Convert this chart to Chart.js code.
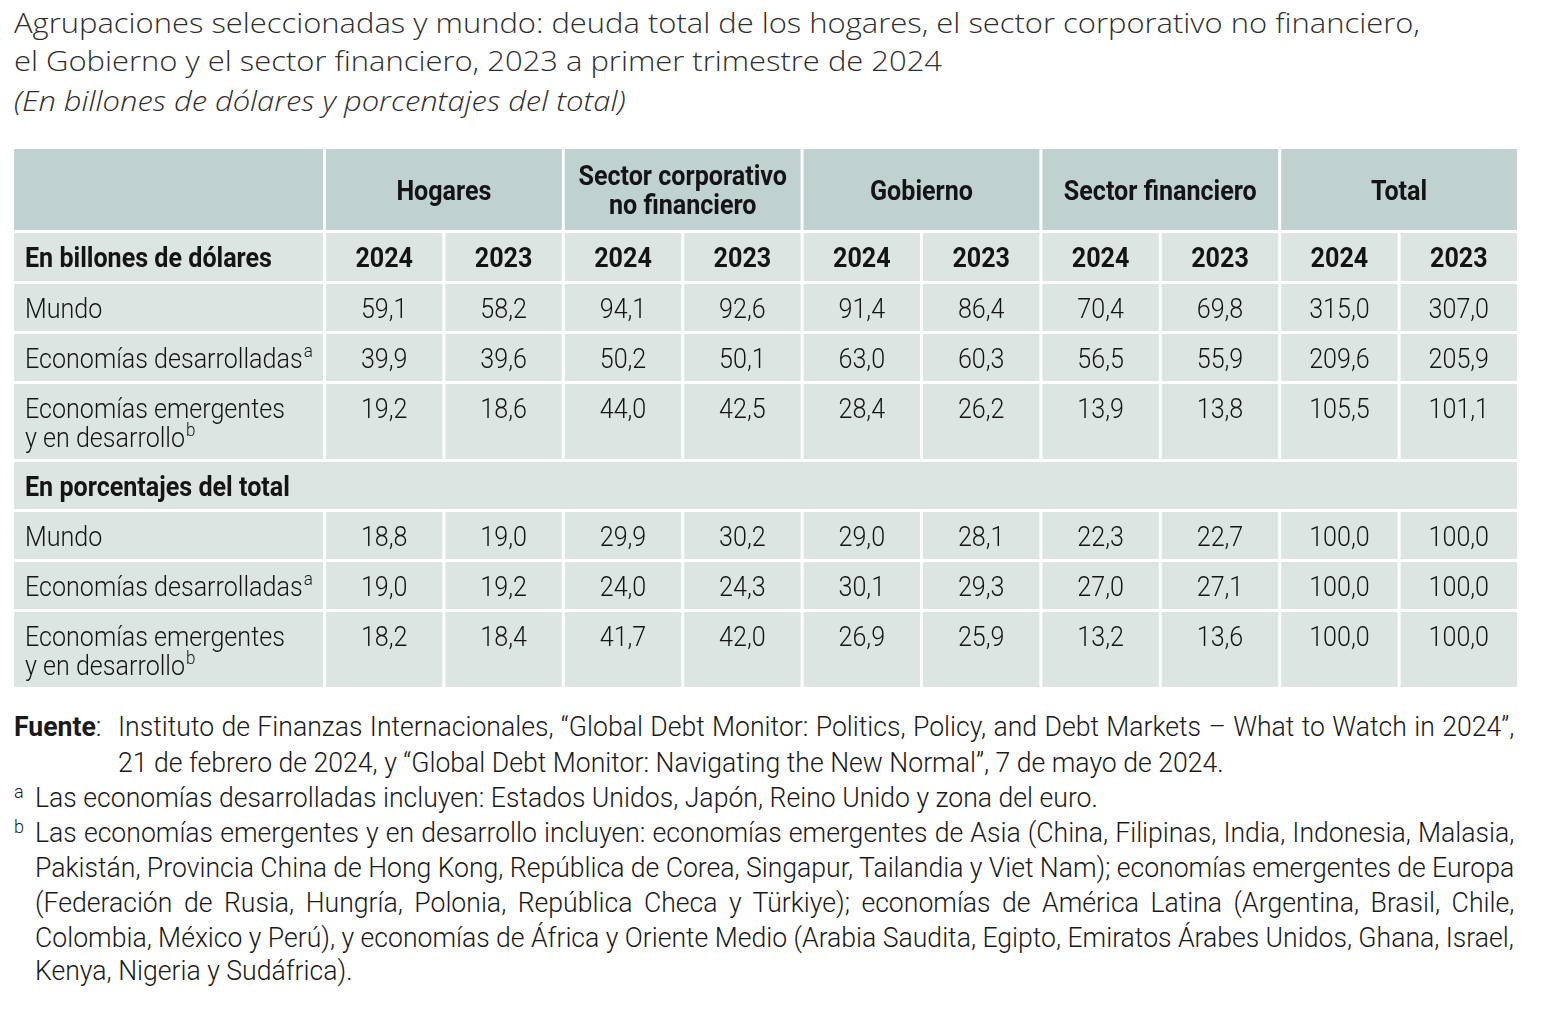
<!DOCTYPE html>
<html><head><meta charset="utf-8">
<script src="https://cdn.jsdelivr.net/npm/chart.js@4.4.1/dist/chart.umd.min.js"></script>
<style>
html,body{margin:0;padding:0;background:#fff;width:1567px;height:1032px;overflow:hidden}
.t{position:absolute;white-space:nowrap;transform-origin:0 0}
.ti{font-family:"Open Sans";font-weight:300;font-size:28px;line-height:36px;color:#2e2e2e}
.fn{font-family:Roboto;font-weight:300;font-size:28px;line-height:35px;color:#1a1a1a}
.sup{font-family:Roboto;font-weight:300;font-size:19px;color:#1a1a1a}
#wrap{position:absolute;left:14px;top:149px;width:1503px;height:538px}
</style></head><body>
<div class="t ti" id="t1" style="left:14px;top:4px">Agrupaciones seleccionadas y mundo: deuda total de los hogares, el sector corporativo no financiero,</div>
<div class="t ti" id="t2" style="left:14px;top:42px">el Gobierno y el sector financiero, 2023 a primer trimestre de 2024</div>
<div class="t ti" id="t3" style="left:14px;top:82px;font-style:italic">(En billones de dólares y porcentajes del total)</div>

<div id="wrap"><canvas id="c" width="1503" height="538"></canvas></div>

<div class="t fn" id="f0" style="left:14px;top:709px"><b style="font-weight:700">Fuente</b>:</div>
<div class="t fn" id="f1" style="left:118px;top:709px">Instituto de Finanzas Internacionales, “Global Debt Monitor: Politics, Policy, and Debt Markets – What to Watch in 2024”,</div>
<div class="t fn" id="f2" style="left:118px;top:745px">21 de febrero de 2024, y “Global Debt Monitor: Navigating the New Normal”, 7 de mayo de 2024.</div>
<div class="t sup" style="left:14px;top:780px">a</div>
<div class="t fn" id="fa" style="left:35px;top:780px">Las economías desarrolladas incluyen: Estados Unidos, Japón, Reino Unido y zona del euro.</div>
<div class="t sup" style="left:14px;top:815px">b</div>
<div class="t fn" id="fb1" style="left:35px;top:815px">Las economías emergentes y en desarrollo incluyen: economías emergentes de Asia (China, Filipinas, India, Indonesia, Malasia,</div>
<div class="t fn" id="fb2" style="left:35px;top:850px">Pakistán, Provincia China de Hong Kong, República de Corea, Singapur, Tailandia y Viet Nam); economías emergentes de Europa</div>
<div class="t fn" id="fb3" style="left:35px;top:885px">(Federación de Rusia, Hungría, Polonia, República Checa y Türkiye); economías de América Latina (Argentina, Brasil, Chile,</div>
<div class="t fn" id="fb4" style="left:35px;top:920px">Colombia, México y Perú), y economías de África y Oriente Medio (Arabia Saudita, Egipto, Emiratos Árabes Unidos, Ghana, Israel,</div>
<div class="t fn" id="fb5" style="left:35px;top:953px">Kenya, Nigeria y Sudáfrica).</div>

<script>
// ---------------- DATA ----------------
const groups = ['Hogares', 'Sector corporativo\nno financiero', 'Gobierno', 'Sector financiero', 'Total'];
const years = ['2024', '2023'];
const sectionLabels = ['En billones de dólares', 'En porcentajes del total'];
const rowLabels = ['Mundo', 'Economías desarrolladas', 'Economías emergentes\ny en desarrollo'];
const rowNotes = ['', 'a', 'b'];
// order: Hogares 2024, 2023, Corporativo 2024, 2023, Gobierno 2024, 2023, Financiero 2024, 2023, Total 2024, 2023
const mundoBillones         = [59.1, 58.2, 94.1, 92.6, 91.4, 86.4, 70.4, 69.8, 315.0, 307.0];
const desarrolladasBillones = [39.9, 39.6, 50.2, 50.1, 63.0, 60.3, 56.5, 55.9, 209.6, 205.9];
const emergentesBillones    = [19.2, 18.6, 44.0, 42.5, 28.4, 26.2, 13.9, 13.8, 105.5, 101.1];
const mundoPct              = [18.8, 19.0, 29.9, 30.2, 29.0, 28.1, 22.3, 22.7, 100.0, 100.0];
const desarrolladasPct      = [19.0, 19.2, 24.0, 24.3, 30.1, 29.3, 27.0, 27.1, 100.0, 100.0];
const emergentesPct         = [18.2, 18.4, 41.7, 42.0, 26.9, 25.9, 13.2, 13.6, 100.0, 100.0];

// ---------------- LAYOUT / STYLE ----------------
const TABLE_W = 1503, TABLE_H = 538;
const LABEL_W = 309, GAP = 3, NCOL = groups.length * years.length;
const DATA_W = (TABLE_W - LABEL_W - GAP * NCOL) / NCOL;
const rowHeights = [81, 48, 47, 47, 75, 47, 47, 47, 75];
const HEAD_BG = '#bfd2cf', BODY_BG = '#dce5e2', TXT = '#141414';
const FONT = 'Roboto', FS = 28, PAD = 11, LINE = 29;

const rows = [
  {kind: 'group'},
  {kind: 'years', label: sectionLabels[0]},
  {kind: 'data', label: rowLabels[0], note: rowNotes[0], values: mundoBillones},
  {kind: 'data', label: rowLabels[1], note: rowNotes[1], values: desarrolladasBillones},
  {kind: 'data', label: rowLabels[2], note: rowNotes[2], values: emergentesBillones},
  {kind: 'section', label: sectionLabels[1]},
  {kind: 'data', label: rowLabels[0], note: rowNotes[0], values: mundoPct},
  {kind: 'data', label: rowLabels[1], note: rowNotes[1], values: desarrolladasPct},
  {kind: 'data', label: rowLabels[2], note: rowNotes[2], values: emergentesPct}
];
const fmt = v => v.toFixed(1).replace('.', ',');

const tablePlugin = {
  id: 'tablePlugin',
  afterDraw(chart) {
    const ctx = chart.ctx, xs = chart.scales.x, ys = chart.scales.y;
    ctx.save();
    ctx.font = `700 ${FS}px ${FONT}`;
    const K = 247 / ctx.measureText(sectionLabels[0]).width;
    const X = v => xs.getPixelForValue(v), Y = v => ys.getPixelForValue(v);
    function rect(x0, x1, y0, y1, c) {
      ctx.fillStyle = c;
      ctx.fillRect(X(x0), Y(y0), X(x1) - X(x0), Y(y1) - Y(y0));
    }
    function txt(s, x, y, align, weight) {
      ctx.save();
      ctx.font = `${weight} ${FS}px ${FONT}`;
      ctx.fillStyle = TXT;
      ctx.translate(X(x), Y(y));
      ctx.scale(K, 1);
      ctx.textAlign = align;
      ctx.textBaseline = 'alphabetic';
      ctx.fillText(s, 0, 10);
      const w = ctx.measureText(s).width * K;
      ctx.restore();
      return w;
    }
    function sup(s, x, y) {
      ctx.save();
      ctx.font = `300 19px ${FONT}`;
      ctx.fillStyle = TXT;
      ctx.translate(X(x), Y(y));
      ctx.scale(K, 1);
      ctx.fillText(s, 0, -1);
      ctx.restore();
    }
    const colStart = i => LABEL_W + GAP + i * (DATA_W + GAP);
    let y0 = 0;
    rows.forEach((r, ri) => {
      const h = rowHeights[ri], y1 = y0 + h, yc = y0 + h / 2;
      const bg = r.kind === 'group' ? HEAD_BG : BODY_BG;
      if (r.kind === 'section') {
        rect(0, TABLE_W, y0, y1, bg);
        txt(r.label, PAD, yc, 'left', 700);
      } else {
        rect(0, LABEL_W, y0, y1, bg);
        if (r.kind === 'group') {
          groups.forEach((g, gi) => {
            const xa = colStart(gi * 2), xb = colStart(gi * 2 + 1) + DATA_W;
            rect(xa, xb, y0, y1, bg);
            const lines = g.split('\n');
            lines.forEach((ln, li) => txt(ln, (xa + xb) / 2, yc + (li - (lines.length - 1) / 2) * LINE, 'center', 700));
          });
        } else {
          const lines = r.kind === 'data' ? r.label.split('\n') : [r.label];
          const multi = lines.length > 1;
          const firstY = multi ? y0 + 24 : yc;
          for (let i = 0; i < NCOL; i++) {
            const xa = colStart(i), xb = xa + DATA_W;
            rect(xa, xb, y0, y1, bg);
            if (r.kind === 'years') txt(years[i % 2], (xa + xb) / 2, yc, 'center', 700);
            else txt(fmt(r.values[i]), (xa + xb) / 2, firstY, 'center', 300);
          }
          lines.forEach((ln, li) => {
            const w = txt(ln, PAD, firstY + li * LINE, 'left', r.kind === 'years' ? 700 : 300);
            if (r.note && li === lines.length - 1) sup(r.note, PAD + w + 1, firstY + li * LINE);
          });
        }
      }
      y0 = y1 + GAP;
    });
    ctx.restore();
  }
};

new Chart(document.getElementById('c'), {
  type: 'scatter',
  data: {datasets: []},
  options: {
    responsive: false, animation: false, devicePixelRatio: 1,
    layout: {padding: 0},
    plugins: {legend: {display: false}, tooltip: {enabled: false}},
    scales: {
      x: {type: 'linear', min: 0, max: TABLE_W, display: false},
      y: {type: 'linear', min: 0, max: TABLE_H, reverse: true, display: false}
    }
  },
  plugins: [tablePlugin]
});

// ---------------- text fitting ----------------
const t1 = document.getElementById('t1');
const kT = 1406 / t1.offsetWidth;
['t1', 't2', 't3'].forEach(id => document.getElementById(id).style.transform = `scaleX(${kT})`);
const fa = document.getElementById('fa');
const kF = 1063 / fa.offsetWidth;
function justify(id, left, right) {
  const el = document.getElementById(id);
  const n = (el.textContent.match(/ /g) || []).length;
  const extra = ((right - left) / kF - el.offsetWidth) / n;
  el.style.wordSpacing = extra + 'px';
}
justify('f1', 118, 1514);
['fb1', 'fb2', 'fb3', 'fb4'].forEach(id => justify(id, 35, 1514));
['f0', 'f1', 'f2', 'fa', 'fb1', 'fb2', 'fb3', 'fb4', 'fb5'].forEach(id => document.getElementById(id).style.transform = `scaleX(${kF})`);
document.querySelectorAll('.sup').forEach(el => el.style.transform = `scaleX(${kF})`);
</script>
</body></html>
